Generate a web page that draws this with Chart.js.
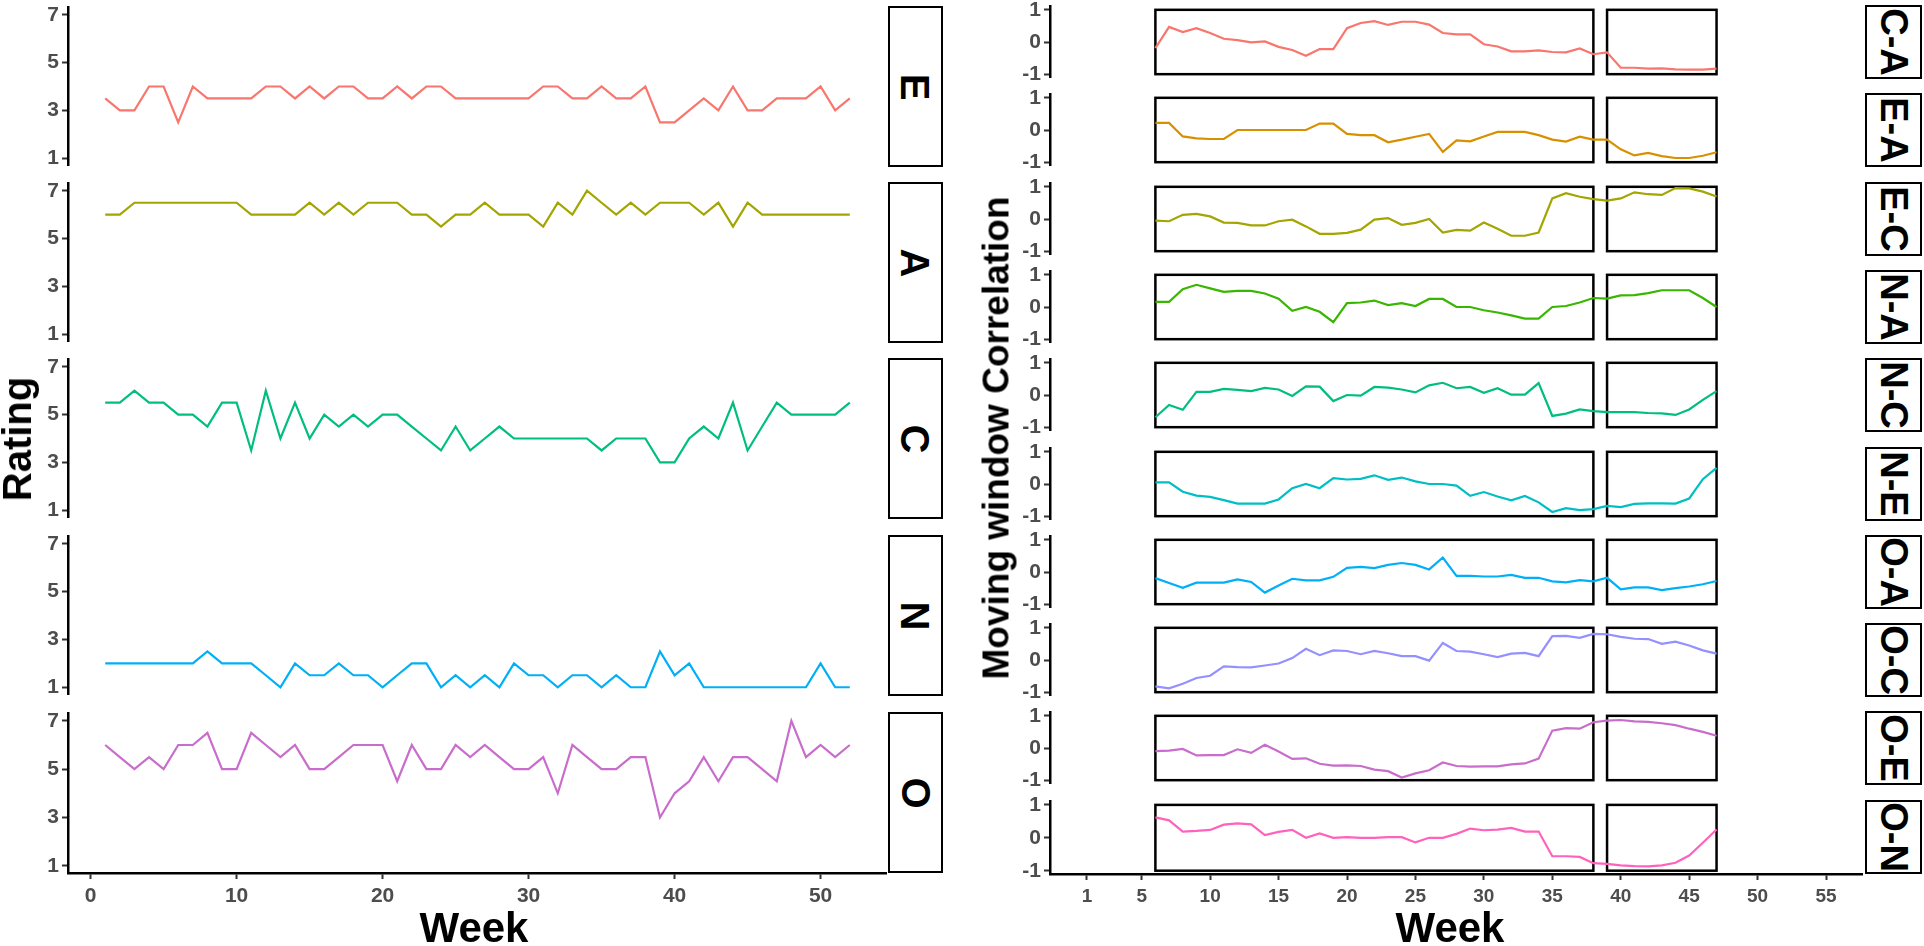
<!DOCTYPE html>
<html>
<head>
<meta charset="utf-8">
<script src="https://cdn.jsdelivr.net/npm/chart.js@4"></script>
<style>
  body { margin: 0; background: #fff; }
  #page { position: relative; width: 1924px; height: 946px; overflow: hidden; font-family: "Liberation Sans", Arial, sans-serif; }
  canvas { position: absolute; }
  .strip { position: absolute; box-sizing: border-box; border: 2px solid #000; background: #fff; overflow: hidden; display: flex; align-items: center; justify-content: center; }
  .strip span { display: inline-block; transform: rotate(90deg); font-weight: bold; color: #000; white-space: nowrap; line-height: 1; }
  .title { position: absolute; font-weight: bold; color: #000; white-space: nowrap; line-height: 1; }
</style>
</head>
<body>
<div id="page"></div>
<script>
// ---- left side: weekly ratings ----
const ratingWeeks = [1, 2, 3, 4, 5, 6, 7, 8, 9, 10, 11, 12, 13, 14, 15, 16, 17, 18, 19, 20,
    21, 22, 23, 24, 25, 26, 27, 28, 29, 30, 31, 32, 33, 34, 35, 36, 37, 38, 39, 40,
    41, 42, 43, 44, 45, 46, 47, 48, 49, 50, 51, 52];
const ratingTicks = [1, 3, 5, 7];
const leftWeekTicks = [0, 10, 20, 30, 40, 50];
const traits = ["E", "A", "C", "N", "O"];
const traitColors = ["#F8766D", "#A3A500", "#00BF7D", "#00B0F6", "#C86DCB"];

const ratingE = [3.5, 3, 3, 4, 4, 2.5, 4, 3.5, 3.5, 3.5, 3.5, 4, 4, 3.5, 4, 3.5, 4, 4, 3.5, 3.5,
    4, 3.5, 4, 4, 3.5, 3.5, 3.5, 3.5, 3.5, 3.5, 4, 4, 3.5, 3.5, 4, 3.5, 3.5, 4, 2.5, 2.5,
    3, 3.5, 3, 4, 3, 3, 3.5, 3.5, 3.5, 4, 3, 3.5];
const ratingA = [6, 6, 6.5, 6.5, 6.5, 6.5, 6.5, 6.5, 6.5, 6.5, 6, 6, 6, 6, 6.5, 6, 6.5, 6, 6.5, 6.5,
    6.5, 6, 6, 5.5, 6, 6, 6.5, 6, 6, 6, 5.5, 6.5, 6, 7, 6.5, 6, 6.5, 6, 6.5, 6.5,
    6.5, 6, 6.5, 5.5, 6.5, 6, 6, 6, 6, 6, 6, 6];
const ratingC = [5.5, 5.5, 6, 5.5, 5.5, 5, 5, 4.5, 5.5, 5.5, 3.5, 6, 4, 5.5, 4, 5, 4.5, 5, 4.5, 5,
    5, 4.5, 4, 3.5, 4.5, 3.5, 4, 4.5, 4, 4, 4, 4, 4, 4, 3.5, 4, 4, 4, 3, 3,
    4, 4.5, 4, 5.5, 3.5, 4.5, 5.5, 5, 5, 5, 5, 5.5];
const ratingN = [2, 2, 2, 2, 2, 2, 2, 2.5, 2, 2, 2, 1.5, 1, 2, 1.5, 1.5, 2, 1.5, 1.5, 1,
    1.5, 2, 2, 1, 1.5, 1, 1.5, 1, 2, 1.5, 1.5, 1, 1.5, 1.5, 1, 1.5, 1, 1, 2.5, 1.5,
    2, 1, 1, 1, 1, 1, 1, 1, 1, 2, 1, 1];
const ratingO = [6, 5.5, 5, 5.5, 5, 6, 6, 6.5, 5, 5, 6.5, 6, 5.5, 6, 5, 5, 5.5, 6, 6, 6,
    4.5, 6, 5, 5, 6, 5.5, 6, 5.5, 5, 5, 5.5, 4, 6, 5.5, 5, 5, 5.5, 5.5, 3, 4,
    4.5, 5.5, 4.5, 5.5, 5.5, 5, 4.5, 7, 5.5, 6, 5.5, 6];
const ratings = [ratingE, ratingA, ratingC, ratingN, ratingO];

// ---- right side: moving window correlations ----
const corrWeeks = [6, 7, 8, 9, 10, 11, 12, 13, 14, 15, 16, 17, 18, 19, 20, 21, 22, 23, 24, 25,
    26, 27, 28, 29, 30, 31, 32, 33, 34, 35, 36, 37, 38, 39, 40, 41, 42, 43, 44, 45, 46, 47];
const corrTicks = [-1, 0, 1];
const rightWeekTicks = [1, 5, 10, 15, 20, 25, 30, 35, 40, 45, 50, 55];
const windowBounds = [[6, 38], [39, 47]];
const pairs = ["C-A", "E-A", "E-C", "N-A", "N-C", "N-E", "O-A", "O-C", "O-E", "O-N"];
const pairColors = ["#F8766D", "#D89000", "#A3A500", "#39B600", "#00BF7D",
    "#00BFC4", "#00B0F6", "#9590FF", "#C86DCB", "#FF62BC"];

const corrCA = [-0.19, 0.47, 0.31, 0.43, 0.28, 0.1, 0.06, -0.01, 0.02, -0.15, -0.25, -0.43, -0.22, -0.22,
    0.43, 0.59, 0.65, 0.53, 0.63, 0.63, 0.54, 0.28, 0.24, 0.24, -0.07, -0.14, -0.29, -0.29, -0.26,
    -0.31, -0.32, -0.2, -0.38, -0.32, -0.8, -0.8, -0.83, -0.82, -0.85, -0.86, -0.86, -0.83];
const corrEA = [0.22, 0.22, -0.2, -0.26, -0.28, -0.28, 0, 0, 0, 0, 0, 0, 0.2, 0.2, -0.12, -0.16, -0.16,
    -0.38, -0.3, -0.21, -0.12, -0.68, -0.32, -0.35, -0.2, -0.06, -0.06, -0.06, -0.16, -0.3, -0.36,
    -0.21, -0.3, -0.3, -0.6, -0.79, -0.71, -0.81, -0.87, -0.87, -0.8, -0.69];
const corrEC = [-0.05, -0.07, 0.13, 0.16, 0.08, -0.11, -0.12, -0.2, -0.2, -0.07, -0.02, -0.23, -0.46,
    -0.46, -0.43, -0.33, -0.02, 0.03, -0.18, -0.12, 0, -0.42, -0.34, -0.36, -0.11, -0.3, -0.52, -0.52,
    -0.42, 0.64, 0.8, 0.69, 0.62, 0.57, 0.64, 0.83, 0.77, 0.75, 0.96, 0.95, 0.85, 0.7];
const corrNA = [0.16, 0.16, 0.55, 0.69, 0.58, 0.47, 0.5, 0.5, 0.42, 0.26, -0.12, 0, -0.15, -0.47, 0.12,
    0.14, 0.2, 0.06, 0.12, 0.03, 0.25, 0.25, 0, 0, -0.1, -0.17, -0.26, -0.36, -0.36, 0, 0.03, 0.14,
    0.28, 0.26, 0.36, 0.37, 0.43, 0.52, 0.52, 0.52, 0.28, 0];
const corrNC = [-0.69, -0.31, -0.46, 0.1, 0.1, 0.19, 0.16, 0.12, 0.22, 0.17, -0.03, 0.27, 0.26, -0.19, 0,
    -0.02, 0.25, 0.23, 0.17, 0.08, 0.3, 0.38, 0.21, 0.25, 0.07, 0.21, 0.01, 0.01, 0.37, -0.65, -0.58,
    -0.45, -0.5, -0.53, -0.53, -0.53, -0.56, -0.57, -0.62, -0.45, -0.15, 0.12];
const corrNE = [0.05, 0.05, -0.24, -0.36, -0.4, -0.5, -0.61, -0.61, -0.61, -0.48, -0.13, 0, -0.13, 0.18,
    0.14, 0.16, 0.27, 0.13, 0.2, 0.08, 0, 0, -0.05, -0.37, -0.25, -0.39, -0.51, -0.37, -0.57, -0.87,
    -0.75, -0.81, -0.78, -0.68, -0.72, -0.62, -0.6, -0.6, -0.61, -0.45, 0.15, 0.5];
const corrOA = [-0.19, -0.34, -0.49, -0.33, -0.33, -0.33, -0.23, -0.31, -0.64, -0.42, -0.21, -0.26,
    -0.26, -0.15, 0.13, 0.16, 0.12, 0.22, 0.28, 0.22, 0.08, 0.45, -0.12, -0.12, -0.14, -0.14, -0.09,
    -0.18, -0.18, -0.29, -0.32, -0.25, -0.29, -0.18, -0.54, -0.48, -0.48, -0.56, -0.5, -0.45, -0.38, -0.28];
const corrOC = [-0.82, -0.88, -0.74, -0.56, -0.49, -0.2, -0.22, -0.23, -0.17, -0.11, 0.06, 0.35, 0.15,
    0.3, 0.28, 0.18, 0.28, 0.21, 0.12, 0.12, -0.02, 0.53, 0.28, 0.26, 0.18, 0.09, 0.2, 0.22, 0.12,
    0.74, 0.75, 0.69, 0.81, 0.8, 0.72, 0.66, 0.65, 0.5, 0.57, 0.45, 0.3, 0.2];
const corrOE = [-0.1, -0.08, -0.03, -0.23, -0.22, -0.22, -0.04, -0.15, 0.1, -0.11, -0.34, -0.32, -0.49,
    -0.55, -0.54, -0.56, -0.67, -0.72, -0.92, -0.79, -0.69, -0.45, -0.56, -0.58, -0.57, -0.57, -0.51,
    -0.48, -0.33, 0.54, 0.62, 0.6, 0.8, 0.85, 0.87, 0.83, 0.81, 0.77, 0.71, 0.6, 0.5, 0.38];
const corrON = [0.62, 0.53, 0.19, 0.21, 0.24, 0.4, 0.44, 0.41, 0.08, 0.18, 0.24, 0, 0.13, 0, 0.02, 0, 0,
    0.02, 0.02, -0.14, 0, 0, 0.12, 0.28, 0.23, 0.25, 0.3, 0.19, 0.19, -0.56, -0.56, -0.58, -0.77,
    -0.79, -0.84, -0.86, -0.87, -0.84, -0.76, -0.54, -0.15, 0.25];
const correlations = [corrCA, corrEA, corrEC, corrNA, corrNC, corrNE, corrOA, corrOC, corrOE, corrON];

const page = document.getElementById("page");
const tickGray = "#4D4D4D";
const narrowFont = "'Liberation Sans Narrow', 'Liberation Sans', Arial, sans-serif";
const PAD = 14;

// black frames for the two time windows, drawn through the chart scales
const windowBoxes = {
    id: "windowBoxes",
    beforeDatasetsDraw(chart, args, opts) {
        const { ctx, scales: { x, y } } = chart;
        ctx.save();
        ctx.strokeStyle = "#000";
        ctx.lineWidth = 2.5;
        opts.bounds.forEach(([a, b]) => {
            const x0 = x.getPixelForValue(a), x1 = x.getPixelForValue(b);
            const y0 = y.getPixelForValue(opts.top), y1 = y.getPixelForValue(opts.bottom);
            ctx.strokeRect(x0, y0, x1 - x0, y1 - y0);
        });
        ctx.restore();
    }
};

function makePanel(cfg) {
    const canvas = document.createElement("canvas");
    const w = cfg.yw + cfg.plotW;
    const h = PAD + cfg.plotH + (cfg.bottom ? cfg.xh : PAD);
    canvas.width = w;
    canvas.height = h;
    canvas.style.left = (cfg.axisX - cfg.yw) + "px";
    canvas.style.top = (cfg.top - PAD) + "px";
    canvas.style.width = w + "px";
    canvas.style.height = h + "px";
    page.appendChild(canvas);

    new Chart(canvas, {
        type: "line",
        data: {
            datasets: [{
                data: cfg.xs.map((x, i) => ({ x: x, y: cfg.ys[i] })),
                borderColor: cfg.color,
                borderWidth: 2.2,
                pointRadius: 0,
                tension: 0,
                fill: false
            }]
        },
        options: {
            responsive: false,
            maintainAspectRatio: false,
            animation: false,
            events: [],
            layout: { padding: { top: PAD, bottom: cfg.bottom ? 0 : PAD, left: 0, right: 0 } },
            plugins: {
                legend: { display: false },
                tooltip: { enabled: false },
                windowBoxes: cfg.boxes ? { bounds: cfg.boxes, top: 1, bottom: -1 } : false
            },
            scales: {
                x: {
                    type: "linear",
                    min: cfg.xMin,
                    max: cfg.xMax,
                    display: cfg.bottom,
                    afterBuildTicks: s => { s.ticks = cfg.xTicks.map(v => ({ value: v })); },
                    afterFit: s => { s.height = cfg.bottom ? cfg.xh : 0; },
                    grid: { drawOnChartArea: false, tickLength: 6, tickColor: "#333", tickWidth: 2 },
                    border: { display: true, color: "#000", width: 2.5 },
                    ticks: {
                        color: tickGray, padding: 5, maxRotation: 0, autoSkip: false,
                        font: { family: cfg.xFont, size: cfg.xSize, weight: "bold" }
                    }
                },
                y: {
                    min: cfg.yMin,
                    max: cfg.yMax,
                    afterBuildTicks: s => { s.ticks = cfg.yTicks.map(v => ({ value: v })); },
                    afterFit: s => { s.width = cfg.yw; },
                    grid: { drawOnChartArea: false, tickLength: 6, tickColor: "#333", tickWidth: 2 },
                    border: { display: true, color: "#000", width: 2.5 },
                    ticks: {
                        color: tickGray, padding: 3,
                        font: { family: narrowFont, size: 21, weight: "bold" }
                    }
                }
            }
        },
        plugins: cfg.boxes ? [windowBoxes] : []
    });
}

function addStrip(text, x, y, w, h, size) {
    const d = document.createElement("div");
    d.className = "strip";
    d.style.left = x + "px";
    d.style.top = y + "px";
    d.style.width = w + "px";
    d.style.height = h + "px";
    const s = document.createElement("span");
    s.textContent = text;
    s.style.fontSize = size + "px";
    d.appendChild(s);
    page.appendChild(d);
}

function addTitle(text, cx, cy, size, rot) {
    const d = document.createElement("div");
    d.className = "title";
    d.textContent = text;
    d.style.fontSize = size + "px";
    d.style.left = cx + "px";
    d.style.top = cy + "px";
    d.style.transform = "translate(-50%, -50%) rotate(" + rot + "deg)";
    page.appendChild(d);
}

// left facets
const leftTops = [6, 182, 358, 535, 712];
const leftH = 161;
traits.forEach((t, k) => {
    makePanel({
        axisX: 68, yw: 44, plotW: 819, top: leftTops[k], plotH: leftH,
        bottom: k === traits.length - 1, xh: 40,
        xs: ratingWeeks, ys: ratings[k], color: traitColors[k],
        xMin: -1.55, xMax: 54.55, xTicks: leftWeekTicks, xFont: narrowFont, xSize: 21,
        yMin: 0.7, yMax: 7.3, yTicks: ratingTicks
    });
    addStrip(t, 888, leftTops[k], 55, leftH, 40);
});

// right facets
const rightTop0 = 5, rightPitch = 88.3, rightH = 74;
pairs.forEach((p, i) => {
    const top = Math.round(rightTop0 + rightPitch * i);
    makePanel({
        axisX: 1050, yw: 50, plotW: 813, top: top, plotH: rightH,
        bottom: i === pairs.length - 1, xh: 40,
        xs: corrWeeks, ys: correlations[i], color: pairColors[i], boxes: windowBounds,
        xMin: -1.7, xMax: 57.7, xTicks: rightWeekTicks, xFont: "'Liberation Sans', Arial, sans-serif", xSize: 19,
        yMin: -1.1, yMax: 1.1, yTicks: corrTicks
    });
    addStrip(p, 1865, top, 57, rightH, 38);
});

addTitle("Rating", 17, 439, 40, -90);
addTitle("Moving window Correlation", 996, 438, 37, -90);
addTitle("Week", 474, 928, 42, 0);
addTitle("Week", 1450, 928, 42, 0);
</script>
</body>
</html>
